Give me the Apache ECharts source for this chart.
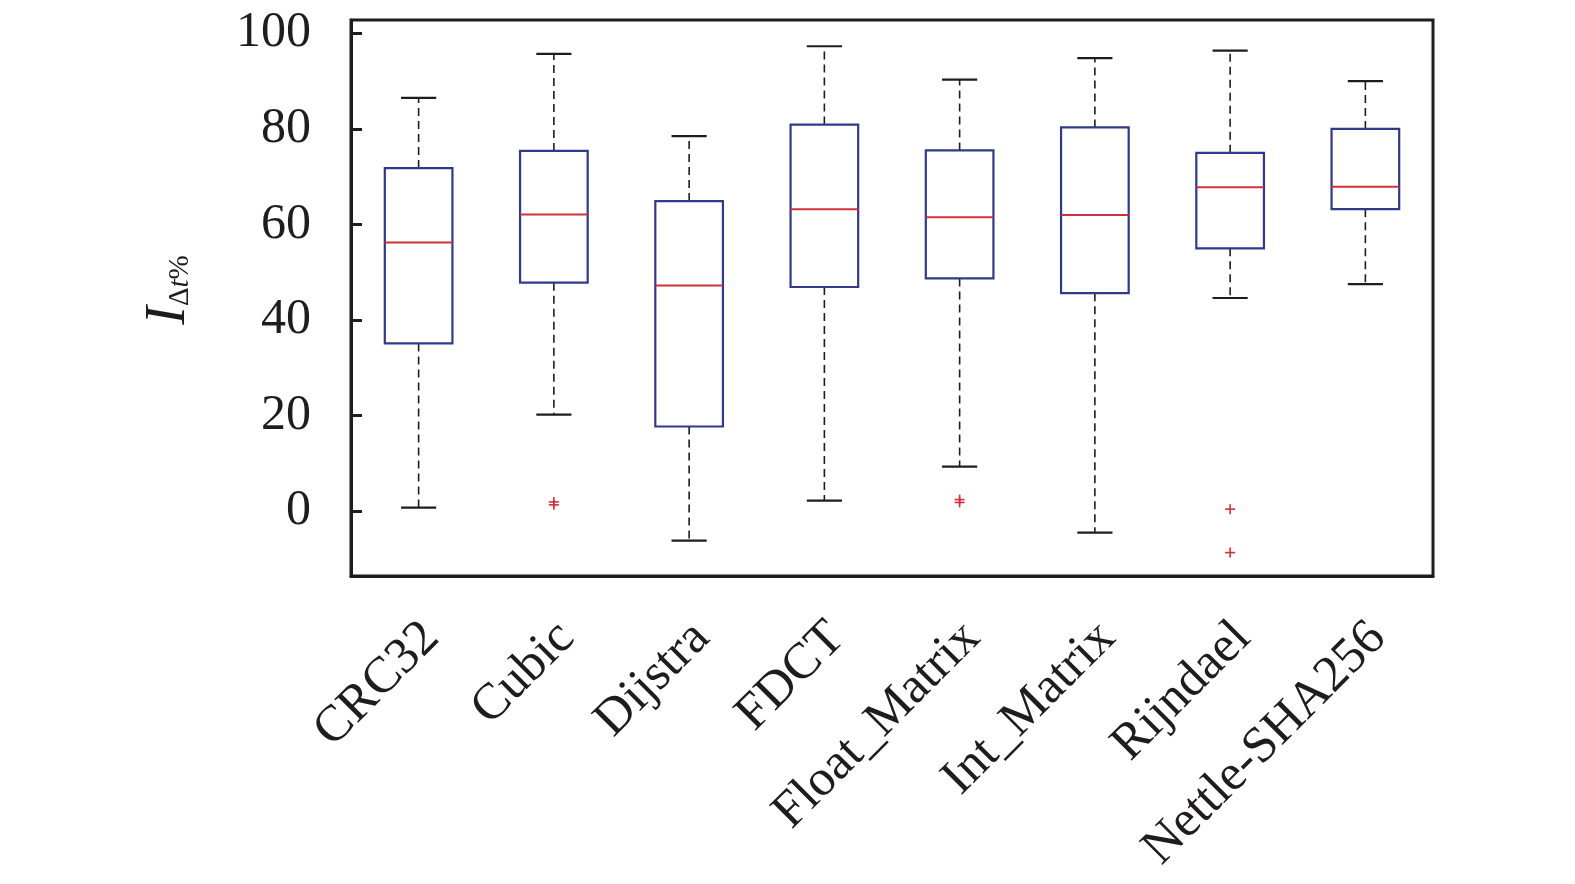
<!DOCTYPE html>
<html>
<head>
<meta charset="utf-8">
<script src="https://cdn.jsdelivr.net/npm/echarts@6/dist/echarts.min.js"></script>
<style>
  html, body { margin: 0; padding: 0; background: #fff; }
  #main { width: 1575px; height: 884px; }
</style>
</head>
<body>
<div id="main"></div>
<script>
// box plot data
var categories = ['CRC32', 'Cubic', 'Dijstra', 'FDCT', 'Float_Matrix', 'Int_Matrix', 'Rijndael', 'Nettle-SHA256'];
var lowWhisker  = [0.7, 20.2, -6.2, 2.2, 9.3, -4.5, 44.6, 47.5];
var q1          = [35.1, 47.8, 17.7, 46.9, 48.7, 45.6, 55.0, 63.2];
var median      = [56.2, 62.1, 47.2, 63.2, 61.5, 62.0, 67.8, 67.9];
var q3          = [71.8, 75.4, 64.9, 80.9, 75.5, 80.3, 75.0, 80.0];
var highWhisker = [86.5, 95.7, 78.5, 97.3, 90.3, 94.8, 96.4, 90.0];
// outliers: [category index, value]
var outliers = [[1, 1.3], [1, 1.9], [4, 1.8], [4, 2.4], [6, 0.4], [6, -8.7]];
var yTicks = [0, 20, 40, 60, 80, 100];

var FONT = '"Liberation Serif", "DejaVu Serif", serif';
var INK = '#1f1c1d';
var BOX = '#2f3a8a';
var RED = '#d1303a';

var boxData = [];
for (let i = 0; i < categories.length; i++) {
  boxData.push([i, lowWhisker[i], q1[i], median[i], q3[i], highWhisker[i]]);
}

function renderBox(params, api) {
  var idx = api.value(0);
  var band = api.size([1, 0])[0];
  var bw = band * 0.5, cw = band * 0.26;
  var pLow = api.coord([idx, api.value(1)]);
  var pQ1 = api.coord([idx, api.value(2)]);
  var pMed = api.coord([idx, api.value(3)]);
  var pQ3 = api.coord([idx, api.value(4)]);
  var pHigh = api.coord([idx, api.value(5)]);
  var x = pMed[0];
  var dash = { stroke: INK, lineWidth: 1.6, lineDash: [8, 5] };
  var cap = { stroke: INK, lineWidth: 2.2 };
  return {
    type: 'group',
    children: [
      { type: 'line', shape: { x1: x, y1: pQ3[1], x2: x, y2: pHigh[1] }, style: dash },
      { type: 'line', shape: { x1: x, y1: pQ1[1], x2: x, y2: pLow[1] }, style: dash },
      { type: 'line', shape: { x1: x - cw / 2, y1: pHigh[1], x2: x + cw / 2, y2: pHigh[1] }, style: cap },
      { type: 'line', shape: { x1: x - cw / 2, y1: pLow[1], x2: x + cw / 2, y2: pLow[1] }, style: cap },
      { type: 'rect', shape: { x: x - bw / 2, y: pQ3[1], width: bw, height: pQ1[1] - pQ3[1] },
        style: { fill: '#fff', stroke: BOX, lineWidth: 2.2 } },
      { type: 'line', shape: { x1: x - bw / 2, y1: pMed[1], x2: x + bw / 2, y2: pMed[1] },
        style: { stroke: RED, lineWidth: 2 } }
    ]
  };
}

function renderPlus(params, api) {
  var p = api.coord([api.value(0), api.value(1)]);
  var s = 5;
  var st = { stroke: RED, lineWidth: 1.6 };
  return {
    type: 'group',
    children: [
      { type: 'line', shape: { x1: p[0] - s, y1: p[1], x2: p[0] + s, y2: p[1] }, style: st },
      { type: 'line', shape: { x1: p[0], y1: p[1] - s, x2: p[0], y2: p[1] + s }, style: st }
    ]
  };
}

var myChart = echarts.init(document.getElementById('main'));
var option = {
  backgroundColor: '#fff',
  animation: false,
  grid: {
    left: 351, right: 142, top: 20, bottom: 308,
    show: true, borderColor: INK, borderWidth: 3, backgroundColor: 'transparent'
  },
  xAxis: {
    type: 'category',
    data: categories,
    boundaryGap: true,
    axisLine: { onZero: false, lineStyle: { color: INK, width: 3 } },
    axisTick: { inside: true, alignWithLabel: true, length: 12, lineStyle: { color: INK, width: 3 } },
    axisLabel: {
      rotate: 45, fontSize: 51, fontFamily: FONT, color: INK,
      margin: 67, interval: 0, padding: [0, -18, 0, 0]
    },
    splitLine: { show: false }
  },
  yAxis: {
    type: 'value',
    min: -13.6,
    max: 102.8,
    axisLine: { show: true, lineStyle: { color: INK, width: 3 } },
    axisTick: { show: true, inside: true, length: 11, customValues: yTicks, lineStyle: { color: INK, width: 3 } },
    axisLabel: { fontSize: 50, fontFamily: FONT, color: INK, margin: 40, customValues: yTicks },
    splitLine: { show: false },
    name: '{i|I}{s|Δ}{t|t}{s|%}',
    nameLocation: 'middle',
    nameRotate: 90,
    nameGap: 150,
    nameTextStyle: {
      padding: [0, 0, 0, 16],
      rich: {
        i: { fontSize: 56, fontStyle: 'italic', fontFamily: FONT, color: INK, lineHeight: 64, verticalAlign: 'middle' },
        s: { fontSize: 29, fontFamily: FONT, color: INK, lineHeight: 64, verticalAlign: 'bottom', padding: [0, 0, 6, 0] },
        t: { fontSize: 29, fontStyle: 'italic', fontFamily: FONT, color: INK, lineHeight: 64, verticalAlign: 'bottom', padding: [0, 0, 6, 0] }
      }
    }
  },
  series: [
    {
      name: 'box',
      type: 'custom',
      renderItem: renderBox,
      encode: { x: 0, y: [1, 2, 3, 4, 5] },
      data: boxData,
      z: 3
    },
    {
      name: 'outliers',
      type: 'custom',
      renderItem: renderPlus,
      encode: { x: 0, y: 1 },
      data: outliers,
      z: 4
    }
  ]
};
myChart.setOption(option);
</script>
</body>
</html>
